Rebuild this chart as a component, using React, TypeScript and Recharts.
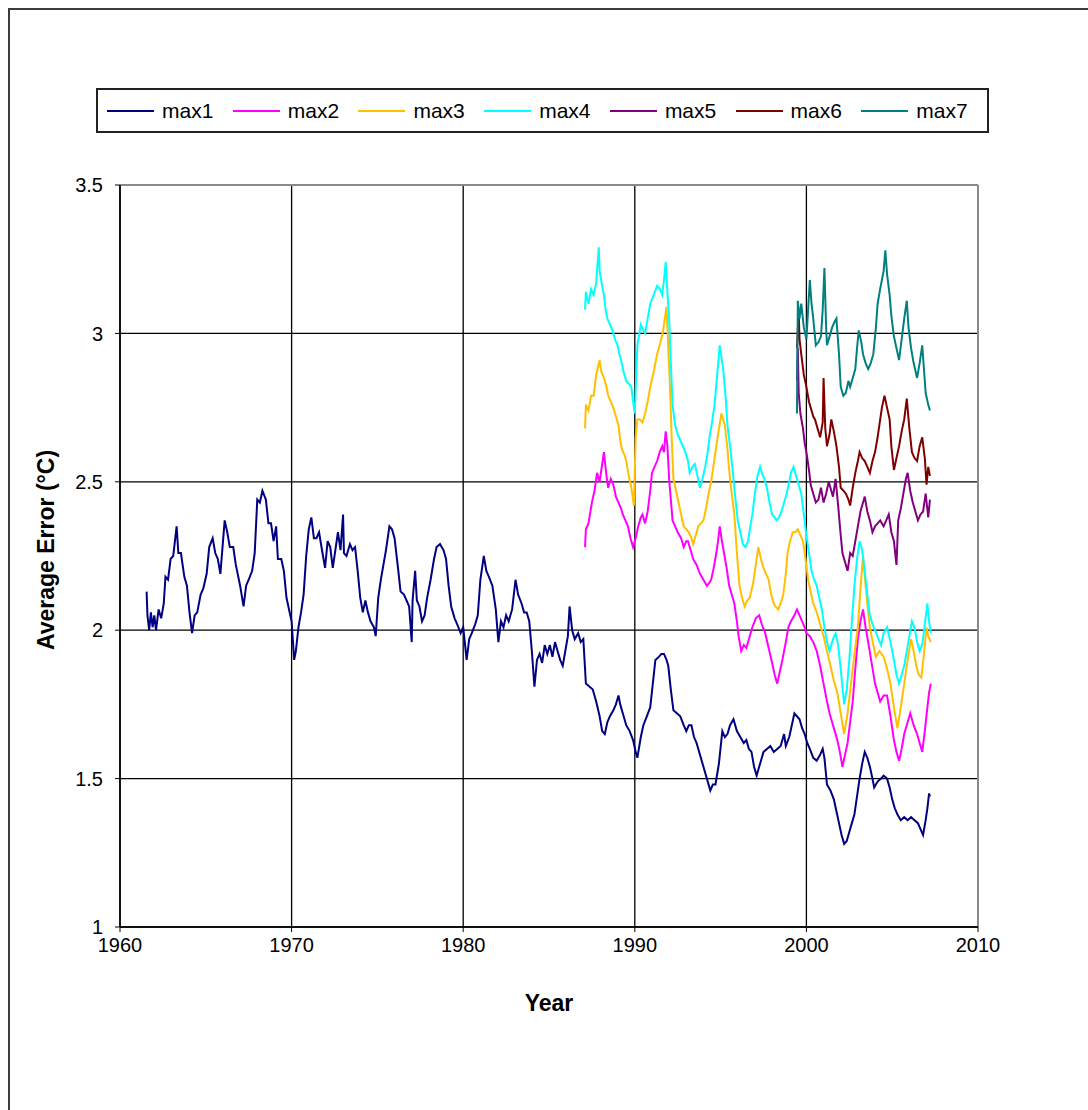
import React from "react"
import {
  LineChart,
  Line,
  XAxis,
  YAxis,
  CartesianGrid,
  ReferenceLine
} from "recharts"

// [year, average error °C]
const max1: [number, number][] = [
  [1961.55, 2.13], [1961.6, 2.05], [1961.7, 2.0], [1961.8, 2.06], [1961.9, 2.01], [1962.0, 2.05], [1962.1, 2.0],
  [1962.25, 2.07], [1962.4, 2.04], [1962.55, 2.09], [1962.65, 2.18], [1962.8, 2.17], [1962.95, 2.24], [1963.1, 2.25],
  [1963.3, 2.35], [1963.4, 2.26], [1963.55, 2.26], [1963.75, 2.18], [1963.9, 2.15], [1964.05, 2.06], [1964.2, 1.99],
  [1964.35, 2.05], [1964.5, 2.06], [1964.7, 2.12], [1964.85, 2.14], [1965.05, 2.19], [1965.2, 2.28], [1965.4, 2.31],
  [1965.55, 2.26], [1965.7, 2.24], [1965.85, 2.19], [1966.1, 2.37], [1966.25, 2.33], [1966.4, 2.28], [1966.6, 2.28],
  [1966.75, 2.22], [1967.0, 2.15], [1967.2, 2.08], [1967.35, 2.15], [1967.5, 2.17], [1967.7, 2.2], [1967.85, 2.26],
  [1968.0, 2.44], [1968.15, 2.43], [1968.3, 2.47], [1968.5, 2.44], [1968.65, 2.36], [1968.8, 2.36], [1968.95, 2.3],
  [1969.1, 2.35], [1969.2, 2.24], [1969.4, 2.24], [1969.55, 2.2], [1969.7, 2.11], [1969.85, 2.07], [1970.0, 2.03],
  [1970.15, 1.9], [1970.25, 1.93], [1970.4, 2.01], [1970.55, 2.06], [1970.7, 2.12], [1970.85, 2.25], [1971.0, 2.34],
  [1971.15, 2.38], [1971.3, 2.31], [1971.45, 2.31], [1971.6, 2.33], [1971.8, 2.26], [1971.95, 2.21], [1972.1, 2.3],
  [1972.25, 2.28], [1972.4, 2.21], [1972.55, 2.27], [1972.7, 2.33], [1972.85, 2.27], [1973.0, 2.39], [1973.05, 2.26],
  [1973.2, 2.25], [1973.4, 2.29], [1973.55, 2.27], [1973.7, 2.28], [1973.85, 2.2], [1974.0, 2.11], [1974.15, 2.06],
  [1974.3, 2.1], [1974.45, 2.06], [1974.6, 2.03], [1974.8, 2.01], [1974.9, 1.98], [1975.05, 2.11], [1975.2, 2.17],
  [1975.35, 2.22], [1975.5, 2.27], [1975.7, 2.35], [1975.85, 2.34], [1976.0, 2.31], [1976.2, 2.21], [1976.35, 2.13],
  [1976.55, 2.12], [1976.7, 2.1], [1976.85, 2.08], [1977.0, 1.96], [1977.05, 2.1], [1977.2, 2.2], [1977.3, 2.1],
  [1977.45, 2.08], [1977.6, 2.03], [1977.75, 2.05], [1977.9, 2.11], [1978.1, 2.17], [1978.3, 2.24], [1978.45, 2.28],
  [1978.65, 2.29], [1978.85, 2.27], [1979.0, 2.24], [1979.15, 2.15], [1979.3, 2.08], [1979.5, 2.04], [1979.65, 2.02],
  [1979.85, 1.99], [1980.0, 2.01], [1980.2, 1.9], [1980.35, 1.97], [1980.5, 1.99], [1980.7, 2.02], [1980.85, 2.05],
  [1981.0, 2.17], [1981.2, 2.25], [1981.35, 2.2], [1981.5, 2.18], [1981.7, 2.15], [1981.9, 2.07], [1982.05, 1.96],
  [1982.2, 2.03], [1982.35, 2.01], [1982.5, 2.05], [1982.65, 2.03], [1982.85, 2.07], [1983.05, 2.17], [1983.2, 2.12],
  [1983.4, 2.09], [1983.55, 2.06], [1983.7, 2.06], [1983.85, 2.03], [1984.0, 1.93], [1984.15, 1.81], [1984.3, 1.9],
  [1984.45, 1.92], [1984.6, 1.89], [1984.75, 1.95], [1984.9, 1.92], [1985.05, 1.95], [1985.2, 1.91], [1985.35, 1.96],
  [1985.5, 1.93], [1985.65, 1.9], [1985.8, 1.88], [1985.95, 1.93], [1986.1, 1.98], [1986.2, 2.08], [1986.35, 2.0],
  [1986.5, 1.97], [1986.7, 1.99], [1986.85, 1.96], [1987.0, 1.97], [1987.15, 1.82], [1987.35, 1.81], [1987.55, 1.8],
  [1987.75, 1.76], [1987.95, 1.71], [1988.1, 1.66], [1988.25, 1.65], [1988.4, 1.69], [1988.55, 1.71], [1988.75, 1.73],
  [1988.9, 1.75], [1989.05, 1.78], [1989.15, 1.75], [1989.3, 1.72], [1989.5, 1.68], [1989.7, 1.66], [1989.9, 1.63],
  [1990.05, 1.59], [1990.15, 1.57], [1990.35, 1.64], [1990.5, 1.68], [1990.7, 1.71], [1990.9, 1.74], [1991.05, 1.82],
  [1991.2, 1.9], [1991.4, 1.91], [1991.55, 1.92], [1991.7, 1.92], [1991.85, 1.9], [1991.95, 1.88], [1992.1, 1.8],
  [1992.25, 1.73], [1992.45, 1.72], [1992.65, 1.71], [1992.85, 1.68], [1993.0, 1.66], [1993.15, 1.68], [1993.3, 1.68],
  [1993.45, 1.64], [1993.6, 1.62], [1993.8, 1.58], [1994.0, 1.54], [1994.2, 1.5], [1994.4, 1.46], [1994.55, 1.48],
  [1994.7, 1.48], [1994.9, 1.55], [1995.1, 1.66], [1995.25, 1.64], [1995.4, 1.65], [1995.55, 1.68], [1995.75, 1.7],
  [1995.95, 1.66], [1996.15, 1.64], [1996.35, 1.62], [1996.5, 1.63], [1996.65, 1.6], [1996.8, 1.59], [1996.95, 1.54],
  [1997.1, 1.51], [1997.3, 1.55], [1997.5, 1.59], [1997.7, 1.6], [1997.9, 1.61], [1998.1, 1.59], [1998.3, 1.6],
  [1998.5, 1.61], [1998.7, 1.65], [1998.8, 1.61], [1999.0, 1.64], [1999.15, 1.68], [1999.3, 1.72], [1999.45, 1.71],
  [1999.6, 1.7], [1999.75, 1.67], [1999.9, 1.65], [2000.05, 1.62], [2000.2, 1.6], [2000.4, 1.57], [2000.6, 1.56],
  [2000.8, 1.58], [2000.95, 1.6], [2001.05, 1.57], [2001.2, 1.48], [2001.4, 1.46], [2001.6, 1.43], [2001.75, 1.39],
  [2001.9, 1.35], [2002.05, 1.31], [2002.2, 1.28], [2002.35, 1.29], [2002.5, 1.32], [2002.65, 1.35], [2002.8, 1.38],
  [2002.95, 1.44], [2003.1, 1.5], [2003.25, 1.55], [2003.4, 1.59], [2003.55, 1.57], [2003.7, 1.54], [2003.85, 1.5],
  [2003.95, 1.47], [2004.15, 1.49], [2004.35, 1.5], [2004.5, 1.51], [2004.7, 1.5], [2004.85, 1.47], [2005.0, 1.43],
  [2005.15, 1.4], [2005.3, 1.38], [2005.5, 1.36], [2005.7, 1.37], [2005.9, 1.36], [2006.1, 1.37], [2006.3, 1.36],
  [2006.5, 1.35], [2006.65, 1.33], [2006.8, 1.31], [2006.95, 1.36], [2007.05, 1.4], [2007.15, 1.45], [2007.2, 1.44]
]

const max2: [number, number][] = [
  [1987.1, 2.28], [1987.15, 2.34], [1987.3, 2.36], [1987.5, 2.43], [1987.65, 2.47], [1987.8, 2.53], [1987.95, 2.5],
  [1988.1, 2.56], [1988.2, 2.6], [1988.35, 2.52], [1988.45, 2.48], [1988.6, 2.51], [1988.75, 2.49], [1988.9, 2.45],
  [1989.05, 2.43], [1989.2, 2.41], [1989.3, 2.39], [1989.45, 2.37], [1989.6, 2.35], [1989.75, 2.31], [1989.9, 2.28],
  [1990.05, 2.31], [1990.2, 2.35], [1990.35, 2.38], [1990.45, 2.39], [1990.6, 2.36], [1990.75, 2.4], [1990.9, 2.47],
  [1991.0, 2.53], [1991.15, 2.55], [1991.3, 2.57], [1991.45, 2.6], [1991.6, 2.62], [1991.7, 2.6], [1991.8, 2.67],
  [1991.9, 2.62], [1992.0, 2.51], [1992.1, 2.44], [1992.2, 2.37], [1992.35, 2.35], [1992.5, 2.33], [1992.7, 2.31],
  [1992.85, 2.28], [1993.0, 2.3], [1993.1, 2.3], [1993.25, 2.27], [1993.4, 2.24], [1993.6, 2.22], [1993.8, 2.19],
  [1994.0, 2.17], [1994.2, 2.15], [1994.35, 2.16], [1994.45, 2.17], [1994.6, 2.21], [1994.75, 2.26], [1994.85, 2.3],
  [1994.95, 2.35], [1995.05, 2.31], [1995.2, 2.26], [1995.35, 2.21], [1995.5, 2.15], [1995.65, 2.12], [1995.8, 2.09],
  [1995.95, 2.03], [1996.05, 1.98], [1996.2, 1.93], [1996.35, 1.95], [1996.5, 1.94], [1996.65, 1.97], [1996.85, 2.01],
  [1997.05, 2.04], [1997.25, 2.05], [1997.4, 2.02], [1997.6, 1.99], [1997.8, 1.94], [1998.0, 1.89], [1998.15, 1.85],
  [1998.3, 1.82], [1998.45, 1.86], [1998.6, 1.9], [1998.8, 1.96], [1998.95, 2.01], [1999.1, 2.03], [1999.3, 2.05],
  [1999.45, 2.07], [1999.6, 2.05], [1999.75, 2.03], [1999.9, 2.01], [2000.0, 1.99], [2000.2, 1.98], [2000.4, 1.96],
  [2000.6, 1.93], [2000.8, 1.88], [2001.0, 1.82], [2001.2, 1.76], [2001.35, 1.72], [2001.5, 1.69], [2001.65, 1.66],
  [2001.8, 1.63], [2001.95, 1.59], [2002.1, 1.54], [2002.25, 1.58], [2002.4, 1.62], [2002.55, 1.69], [2002.7, 1.76],
  [2002.85, 1.87], [2003.0, 1.97], [2003.15, 2.03], [2003.3, 2.07], [2003.45, 2.01], [2003.6, 1.96], [2003.8, 1.89],
  [2004.0, 1.82], [2004.15, 1.79], [2004.3, 1.76], [2004.5, 1.78], [2004.7, 1.78], [2004.9, 1.71], [2005.1, 1.63],
  [2005.25, 1.59], [2005.4, 1.56], [2005.55, 1.6], [2005.7, 1.65], [2005.9, 1.69], [2006.05, 1.72], [2006.25, 1.68],
  [2006.45, 1.65], [2006.6, 1.62], [2006.75, 1.59], [2006.9, 1.66], [2007.05, 1.74], [2007.15, 1.79], [2007.25, 1.82]
]

const max3: [number, number][] = [
  [1987.1, 2.68], [1987.15, 2.76], [1987.3, 2.74], [1987.45, 2.79], [1987.6, 2.79], [1987.75, 2.86], [1987.95, 2.91],
  [1988.05, 2.87], [1988.2, 2.85], [1988.35, 2.82], [1988.45, 2.79], [1988.6, 2.77], [1988.75, 2.75], [1988.9, 2.72],
  [1989.05, 2.69], [1989.15, 2.64], [1989.25, 2.61], [1989.4, 2.59], [1989.5, 2.57], [1989.65, 2.52], [1989.8, 2.48],
  [1989.95, 2.42], [1990.05, 2.65], [1990.15, 2.71], [1990.3, 2.71], [1990.45, 2.7], [1990.6, 2.73], [1990.75, 2.77],
  [1990.9, 2.82], [1991.1, 2.87], [1991.3, 2.93], [1991.5, 2.97], [1991.65, 3.01], [1991.85, 3.09], [1991.95, 2.95],
  [1992.05, 2.82], [1992.15, 2.65], [1992.25, 2.51], [1992.4, 2.47], [1992.55, 2.43], [1992.7, 2.39], [1992.85, 2.35],
  [1993.0, 2.34], [1993.15, 2.33], [1993.3, 2.31], [1993.4, 2.29], [1993.55, 2.32], [1993.7, 2.35], [1993.85, 2.36],
  [1994.0, 2.37], [1994.15, 2.41], [1994.3, 2.46], [1994.45, 2.5], [1994.55, 2.54], [1994.7, 2.6], [1994.85, 2.66],
  [1995.05, 2.73], [1995.25, 2.69], [1995.4, 2.61], [1995.5, 2.54], [1995.65, 2.46], [1995.8, 2.39], [1995.95, 2.26],
  [1996.1, 2.15], [1996.25, 2.11], [1996.4, 2.08], [1996.55, 2.1], [1996.7, 2.11], [1996.9, 2.16], [1997.05, 2.22],
  [1997.2, 2.28], [1997.35, 2.24], [1997.5, 2.21], [1997.65, 2.19], [1997.8, 2.17], [1997.95, 2.12], [1998.1, 2.09],
  [1998.2, 2.08], [1998.35, 2.07], [1998.5, 2.09], [1998.65, 2.12], [1998.8, 2.19], [1998.9, 2.26], [1999.05, 2.3],
  [1999.2, 2.33], [1999.35, 2.33], [1999.5, 2.34], [1999.65, 2.32], [1999.8, 2.3], [1999.95, 2.24], [2000.1, 2.17],
  [2000.25, 2.13], [2000.4, 2.09], [2000.6, 2.06], [2000.8, 2.02], [2001.0, 1.98], [2001.2, 1.93], [2001.4, 1.88],
  [2001.6, 1.83], [2001.8, 1.79], [2002.0, 1.72], [2002.2, 1.65], [2002.4, 1.72], [2002.6, 1.82], [2002.8, 1.92],
  [2003.0, 2.01], [2003.15, 2.14], [2003.3, 2.25], [2003.45, 2.15], [2003.6, 2.06], [2003.7, 2.01], [2003.9, 1.95],
  [2004.05, 1.91], [2004.25, 1.93], [2004.5, 1.91], [2004.7, 1.87], [2004.9, 1.82], [2005.1, 1.74], [2005.3, 1.67],
  [2005.5, 1.74], [2005.7, 1.82], [2005.9, 1.9], [2006.1, 1.97], [2006.25, 1.93], [2006.4, 1.88], [2006.55, 1.85],
  [2006.7, 1.84], [2006.85, 1.92], [2007.0, 2.01], [2007.1, 1.98], [2007.25, 1.96]
]

const max4: [number, number][] = [
  [1987.1, 3.08], [1987.15, 3.14], [1987.3, 3.1], [1987.45, 3.15], [1987.6, 3.13], [1987.75, 3.17], [1987.9, 3.29],
  [1987.95, 3.21], [1988.1, 3.16], [1988.2, 3.13], [1988.3, 3.08], [1988.4, 3.05], [1988.55, 3.03], [1988.7, 3.01],
  [1988.85, 2.98], [1989.0, 2.96], [1989.1, 2.93], [1989.2, 2.91], [1989.35, 2.87], [1989.5, 2.84], [1989.65, 2.83],
  [1989.8, 2.82], [1989.9, 2.77], [1990.0, 2.73], [1990.1, 2.88], [1990.15, 2.96], [1990.35, 3.03], [1990.5, 3.01],
  [1990.6, 3.0], [1990.75, 3.05], [1990.9, 3.1], [1991.1, 3.13], [1991.3, 3.16], [1991.45, 3.15], [1991.6, 3.13],
  [1991.7, 3.18], [1991.8, 3.24], [1991.9, 3.14], [1992.0, 3.05], [1992.1, 2.9], [1992.2, 2.76], [1992.35, 2.69],
  [1992.5, 2.66], [1992.65, 2.64], [1992.8, 2.62], [1992.95, 2.6], [1993.1, 2.57], [1993.2, 2.53], [1993.35, 2.55],
  [1993.5, 2.56], [1993.65, 2.52], [1993.8, 2.48], [1993.95, 2.51], [1994.1, 2.55], [1994.25, 2.6], [1994.35, 2.65],
  [1994.5, 2.7], [1994.65, 2.76], [1994.8, 2.86], [1994.95, 2.96], [1995.05, 2.92], [1995.15, 2.88], [1995.3, 2.78],
  [1995.4, 2.69], [1995.55, 2.62], [1995.7, 2.54], [1995.85, 2.45], [1996.0, 2.37], [1996.15, 2.33], [1996.3, 2.29],
  [1996.45, 2.28], [1996.6, 2.3], [1996.7, 2.34], [1996.85, 2.39], [1997.0, 2.46], [1997.15, 2.52], [1997.3, 2.55],
  [1997.4, 2.53], [1997.55, 2.51], [1997.7, 2.48], [1997.85, 2.43], [1998.0, 2.39], [1998.15, 2.38], [1998.25, 2.37],
  [1998.4, 2.38], [1998.55, 2.4], [1998.7, 2.43], [1998.85, 2.46], [1999.0, 2.5], [1999.1, 2.53], [1999.25, 2.55],
  [1999.4, 2.52], [1999.55, 2.49], [1999.7, 2.46], [1999.85, 2.39], [2000.0, 2.32], [2000.15, 2.26], [2000.3, 2.2],
  [2000.45, 2.17], [2000.6, 2.15], [2000.75, 2.11], [2000.9, 2.07], [2001.05, 2.01], [2001.2, 1.96], [2001.35, 1.93],
  [2001.55, 1.97], [2001.7, 1.99], [2001.85, 1.95], [2002.0, 1.87], [2002.2, 1.75], [2002.35, 1.8], [2002.5, 1.9],
  [2002.65, 2.03], [2002.8, 2.15], [2002.95, 2.24], [2003.1, 2.3], [2003.25, 2.27], [2003.4, 2.2], [2003.55, 2.12],
  [2003.7, 2.05], [2003.85, 2.02], [2004.0, 2.0], [2004.2, 1.97], [2004.35, 1.95], [2004.5, 1.99], [2004.7, 2.01],
  [2004.9, 1.96], [2005.1, 1.9], [2005.25, 1.85], [2005.4, 1.82], [2005.55, 1.85], [2005.7, 1.88], [2005.85, 1.93],
  [2006.0, 1.98], [2006.15, 2.03], [2006.3, 2.01], [2006.45, 1.96], [2006.6, 1.93], [2006.75, 1.95], [2006.9, 2.02],
  [2007.05, 2.09], [2007.15, 2.03], [2007.25, 1.99]
]

const max5: [number, number][] = [
  [1999.45, 2.84], [1999.5, 2.95], [1999.55, 2.8], [1999.65, 2.73], [1999.8, 2.68], [1999.9, 2.63], [2000.0, 2.6],
  [2000.15, 2.54], [2000.25, 2.49], [2000.4, 2.46], [2000.55, 2.43], [2000.7, 2.44], [2000.85, 2.48], [2001.0, 2.43],
  [2001.15, 2.46], [2001.3, 2.5], [2001.4, 2.48], [2001.55, 2.45], [2001.7, 2.51], [2001.85, 2.42], [2002.0, 2.32],
  [2002.1, 2.26], [2002.25, 2.23], [2002.4, 2.2], [2002.55, 2.26], [2002.7, 2.25], [2002.85, 2.3], [2003.0, 2.35],
  [2003.15, 2.4], [2003.3, 2.43], [2003.4, 2.45], [2003.55, 2.4], [2003.7, 2.37], [2003.85, 2.33], [2004.0, 2.35],
  [2004.15, 2.36], [2004.3, 2.37], [2004.5, 2.35], [2004.65, 2.37], [2004.8, 2.39], [2004.95, 2.33], [2005.1, 2.3],
  [2005.25, 2.22], [2005.35, 2.37], [2005.5, 2.41], [2005.65, 2.46], [2005.8, 2.51], [2005.9, 2.53], [2006.05, 2.47],
  [2006.2, 2.43], [2006.35, 2.4], [2006.5, 2.37], [2006.65, 2.39], [2006.8, 2.4], [2006.95, 2.46], [2007.1, 2.38],
  [2007.2, 2.44]
]

const max6: [number, number][] = [
  [1999.45, 2.95], [1999.55, 3.07], [1999.6, 2.98], [1999.7, 2.93], [1999.85, 2.86], [2000.0, 2.82], [2000.15, 2.77],
  [2000.25, 2.75], [2000.4, 2.72], [2000.5, 2.71], [2000.65, 2.68], [2000.8, 2.65], [2000.95, 2.7], [2001.0, 2.85],
  [2001.1, 2.68], [2001.2, 2.62], [2001.35, 2.66], [2001.45, 2.71], [2001.6, 2.67], [2001.75, 2.62], [2001.9, 2.55],
  [2002.0, 2.48], [2002.15, 2.47], [2002.3, 2.46], [2002.45, 2.44], [2002.55, 2.42], [2002.7, 2.48], [2002.85, 2.53],
  [2003.0, 2.57], [2003.1, 2.6], [2003.25, 2.58], [2003.4, 2.57], [2003.55, 2.55], [2003.7, 2.53], [2003.85, 2.57],
  [2004.0, 2.6], [2004.15, 2.65], [2004.25, 2.69], [2004.4, 2.75], [2004.55, 2.79], [2004.7, 2.75], [2004.85, 2.71],
  [2004.95, 2.62], [2005.1, 2.54], [2005.25, 2.58], [2005.4, 2.62], [2005.55, 2.67], [2005.7, 2.71], [2005.85, 2.78],
  [2006.0, 2.68], [2006.15, 2.6], [2006.3, 2.58], [2006.45, 2.57], [2006.6, 2.62], [2006.75, 2.65], [2006.9, 2.58],
  [2007.0, 2.49], [2007.1, 2.55], [2007.2, 2.52]
]

const max7: [number, number][] = [
  [1999.45, 2.73], [1999.5, 3.11], [1999.6, 3.05], [1999.7, 3.1], [1999.85, 3.02], [2000.0, 2.98], [2000.1, 3.08],
  [2000.2, 3.18], [2000.3, 3.1], [2000.4, 3.05], [2000.55, 2.96], [2000.7, 2.97], [2000.85, 2.99], [2000.95, 3.08],
  [2001.05, 3.22], [2001.15, 3.02], [2001.2, 2.96], [2001.35, 2.99], [2001.5, 3.02], [2001.65, 3.04], [2001.75, 3.05],
  [2001.9, 2.93], [2002.0, 2.82], [2002.15, 2.79], [2002.3, 2.8], [2002.45, 2.84], [2002.55, 2.82], [2002.7, 2.85],
  [2002.85, 2.88], [2002.95, 2.95], [2003.05, 3.01], [2003.2, 2.97], [2003.3, 2.93], [2003.45, 2.9], [2003.6, 2.88],
  [2003.75, 2.9], [2003.9, 2.93], [2004.05, 3.02], [2004.15, 3.1], [2004.3, 3.15], [2004.4, 3.18], [2004.5, 3.21],
  [2004.6, 3.28], [2004.7, 3.2], [2004.85, 3.13], [2004.95, 3.06], [2005.1, 2.99], [2005.25, 2.95], [2005.4, 2.91],
  [2005.55, 2.98], [2005.7, 3.05], [2005.85, 3.11], [2005.95, 3.02], [2006.1, 2.95], [2006.25, 2.9], [2006.45, 2.85],
  [2006.6, 2.9], [2006.75, 2.96], [2006.85, 2.88], [2006.95, 2.8], [2007.1, 2.76], [2007.2, 2.74]
]

const xTicks = [1960, 1970, 1980, 1990, 2000, 2010]
const yTicks = [1, 1.5, 2, 2.5, 3, 3.5]

const seriesList = [
  { name: "max1", pts: max1, color: "#000080" },
  { name: "max2", pts: max2, color: "#FF00FF" },
  { name: "max3", pts: max3, color: "#FFC000" },
  { name: "max4", pts: max4, color: "#00FFFF" },
  { name: "max5", pts: max5, color: "#800080" },
  { name: "max6", pts: max6, color: "#800000" },
  { name: "max7", pts: max7, color: "#008080" }
]

const FONT = "'Liberation Sans', Arial, sans-serif"

const toPoints = (arr: [number, number][]) => arr.map(([x, v]) => ({ x, v }))

// Excel-style legend box across the top
function LegendBox() {
  return (
    <div
      style={{
        position: "absolute",
        left: 96,
        top: 88,
        width: 893,
        height: 45,
        boxSizing: "border-box",
        border: "2px solid #222",
        background: "#fff",
        display: "flex",
        alignItems: "center",
        paddingLeft: 9,
        fontFamily: FONT,
        fontSize: 21
      }}
    >
      {seriesList.map((s) => (
        <div key={s.name} style={{ width: 126, display: "flex", alignItems: "center" }}>
          <span style={{ width: 47, height: 2, background: s.color, marginRight: 8, display: "inline-block" }} />
          <span style={{ color: "#000" }}>{s.name}</span>
        </div>
      ))}
    </div>
  )
}

function YTitle() {
  return (
    <text
      x={46}
      y={550}
      transform="rotate(-90 46 550)"
      textAnchor="middle"
      dominantBaseline="central"
      fontFamily={FONT}
      fontWeight="bold"
      fontSize={23}
      fill="#000"
    >
      Average Error (°C)
    </text>
  )
}

function XTitle() {
  return (
    <text
      x={549}
      y={1011}
      textAnchor="middle"
      fontFamily={FONT}
      fontWeight="bold"
      fontSize={23}
      fill="#000"
    >
      Year
    </text>
  )
}

export default function App() {
  return (
    <div
      style={{
        position: "absolute",
        left: 0,
        top: 0,
        width: 1088,
        height: 1110,
        overflow: "hidden",
        background: "#fff"
      }}
    >
      <div
        style={{
          position: "absolute",
          left: 8,
          top: 8,
          width: 1200,
          height: 1200,
          border: "2px solid #3c3c3c"
        }}
      />
      <div style={{ position: "absolute", left: 0, top: 0 }}>
        <LineChart
          width={1088}
          height={1110}
          margin={{ top: 185, right: 110, bottom: 113, left: 60 }}
        >
          <CartesianGrid stroke="#000" strokeWidth={1.3} />

          <XAxis
            type="number"
            dataKey="x"
            domain={[1960, 2010]}
            ticks={xTicks}
            allowDataOverflow
            height={70}
            tick={{ fill: "#000", fontSize: 20, fontFamily: FONT }}
            tickSize={5}
            tickMargin={6}
            axisLine={{ stroke: "#000", strokeWidth: 1.5 }}
            tickLine={{ stroke: "#000" }}
            label={{ content: () => <XTitle /> }}
          />

          <YAxis
            type="number"
            dataKey="v"
            domain={[1, 3.5]}
            ticks={yTicks}
            allowDataOverflow
            width={60}
            tick={{ fill: "#000", fontSize: 20, fontFamily: FONT }}
            tickSize={5}
            tickMargin={12}
            axisLine={{ stroke: "#000", strokeWidth: 1.5 }}
            tickLine={{ stroke: "#000" }}
            label={{ content: () => <YTitle /> }}
          />

          <ReferenceLine y={3.5} stroke="#8a8a8a" strokeWidth={2} />
          <ReferenceLine x={2010} stroke="#8a8a8a" strokeWidth={2} />

          {seriesList.map((s) => (
            <Line
              key={s.name}
              name={s.name}
              data={toPoints(s.pts)}
              dataKey="v"
              type="linear"
              stroke={s.color}
              strokeWidth={2}
              dot={false}
              activeDot={false}
              isAnimationActive={false}
            />
          ))}
        </LineChart>
      </div>
      <LegendBox />
    </div>
  )
}
